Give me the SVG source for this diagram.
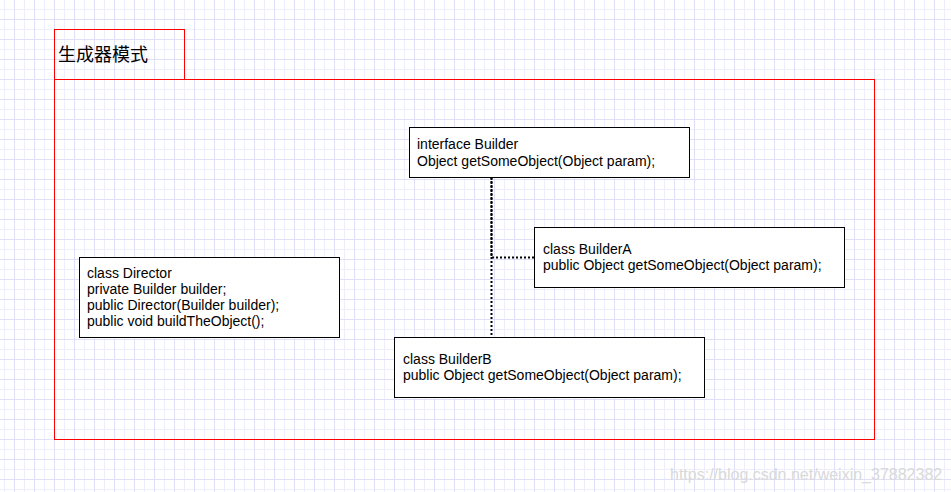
<svg xmlns="http://www.w3.org/2000/svg" width="951" height="492" viewBox="0 0 951 492">
  <defs>
    <pattern id="gridMinor" x="4" y="9" width="10" height="10" patternUnits="userSpaceOnUse">
      <path d="M0.5 0 V10 M0 0.5 H10" fill="none" stroke="#ededfb" stroke-width="1"/>
    </pattern>
    <pattern id="gridMajor" x="14" y="19" width="20" height="20" patternUnits="userSpaceOnUse">
      <path d="M0.5 0 V20 M0 0.5 H20" fill="none" stroke="#dfdff8" stroke-width="1"/>
    </pattern>
  </defs>
  <style>
    .node { fill: #ffffff; stroke: #000000; stroke-width: 1; }
    .frame { fill: none; stroke: #ff0000; stroke-width: 1; }
    .label { font-family: "Liberation Sans", Arial, sans-serif; font-size: 14px; fill: #000000; }
    .title { font-family: "Liberation Sans", "Noto Sans CJK SC", sans-serif; font-size: 18px; fill: #000000; }
    .edge { fill: none; stroke: #000000; stroke-width: 2; stroke-dasharray: 2 2; }
    .watermark { font-family: "Liberation Sans", Arial, sans-serif; font-size: 16px; fill: #d9d9d9; }
  </style>
  <rect x="0" y="0" width="951" height="492" fill="#ffffff"/>
  <rect x="0" y="0" width="951" height="492" fill="url(#gridMinor)"/>
  <rect x="0" y="0" width="951" height="492" fill="url(#gridMajor)"/>

  <g id="container">
    <rect class="frame" x="54.5" y="29.5" width="130" height="50"/>
    <rect class="frame" x="54.5" y="79.5" width="820" height="360"/>
    <text class="title" x="58" y="60.5">生成器模式</text>
  </g>

  <g id="connectors">
    <path class="edge" d="M491.5 178 V257.5 H534"/>
    <path class="edge" d="M491.5 178 V337" style="stroke-dashoffset:1"/>
  </g>

  <g id="builder">
    <rect class="node" x="409.5" y="127.5" width="280" height="50"/>
    <text class="label" x="417" y="149">interface Builder</text>
    <text class="label" x="417" y="165.8">Object getSomeObject(Object param);</text>
  </g>

  <g id="builderA">
    <rect class="node" x="534.5" y="227.5" width="310" height="60"/>
    <text class="label" x="543" y="253.5">class BuilderA</text>
    <text class="label" x="543" y="270.3">public Object getSomeObject(Object param);</text>
  </g>

  <g id="builderB">
    <rect class="node" x="394.5" y="337.5" width="310" height="60"/>
    <text class="label" x="403" y="363.5">class BuilderB</text>
    <text class="label" x="403" y="380.3">public Object getSomeObject(Object param);</text>
  </g>

  <g id="director">
    <rect class="node" x="79.5" y="257.5" width="260" height="80"/>
    <text class="label" x="87" y="277.5">class Director</text>
    <text class="label" x="87" y="293.5">private Builder builder;</text>
    <text class="label" x="87" y="309.5">public Director(Builder builder);</text>
    <text class="label" x="87" y="325.5">public void buildTheObject();</text>
  </g>

  <text class="watermark" x="670" y="480">https://blog.csdn.net/weixin_37882382</text>
</svg>
